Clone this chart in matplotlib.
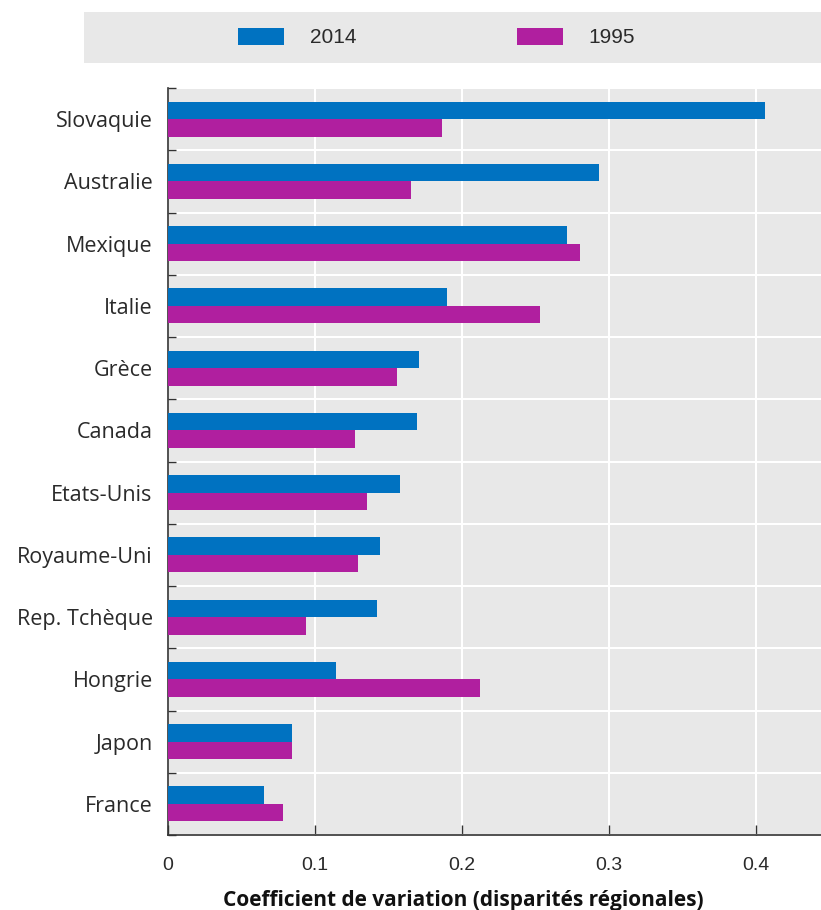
import matplotlib.pyplot as plt
import matplotlib.patches as mpatches
import numpy as np

# Data (coefficient of variation, regional disparities)
countries = ["Slovaquie", "Australie", "Mexique", "Italie", "Grèce", "Canada",
             "Etats-Unis", "Royaume-Uni", "Rep. Tchèque", "Hongrie", "Japon", "France"]
values_2014 = [0.406, 0.293, 0.271, 0.190, 0.171, 0.169, 0.158, 0.144, 0.142, 0.114, 0.084, 0.065]
values_1995 = [0.186, 0.165, 0.280, 0.253, 0.156, 0.127, 0.135, 0.129, 0.094, 0.212, 0.084, 0.078]
x_ticks = [0, 0.1, 0.2, 0.3, 0.4]
x_tick_labels = ["0", "0.1", "0.2", "0.3", "0.4"]

BLUE = "#0072C1"
PURPLE = "#B01F9F"
BG = "#E8E8E8"
NARROW = ['Liberation Sans', 'DejaVu Sans']

plt.rcParams['font.family'] = ['Open Sans', 'DejaVu Sans']

fig = plt.figure(figsize=(8.21, 9.10), dpi=100)
ax = fig.add_axes([168 / 821, 1 - 835 / 910, 1 - 168 / 821, (835 - 88) / 910])
ax.set_facecolor(BG)

y = np.arange(len(countries))
h = 0.28
ax.barh(y - h / 2, values_2014, height=h, color=BLUE, label="2014", zorder=3)
ax.barh(y + h / 2, values_1995, height=h, color=PURPLE, label="1995", zorder=3)

ax.set_ylim(len(countries) - 0.5, -0.5)
ax.set_xlim(0, 0.444)

ax.set_yticks(y)
ax.set_yticklabels(countries, fontsize=15.5, color="#2a2a2a")
ax.set_yticks(np.arange(-0.5, len(countries), 1.0), minor=True)
ax.tick_params(axis="y", which="major", length=0, pad=11)
ax.tick_params(axis="y", which="minor", direction="in", length=6, width=1, color="#333333")

ax.set_xticks(x_ticks)
ax.set_xticklabels(x_tick_labels, fontsize=14, color="#2a2a2a", family=NARROW)
ax.tick_params(axis="x", direction="in", length=7, width=1, color="#333333", pad=16)

ax.grid(True, which="minor", axis="y", color="white", linewidth=1.5, zorder=0)
ax.grid(True, which="major", axis="x", color="white", linewidth=1.5, zorder=0)
ax.set_axisbelow(True)

for side in ["top", "right"]:
    ax.spines[side].set_visible(False)
for side in ["left", "bottom"]:
    ax.spines[side].set_color("#333333")
    ax.spines[side].set_linewidth(1.2)

ax.set_xlabel("Coefficient de variation (disparités régionales)", fontsize=15,
              fontweight="bold", color="#111111")
ax.xaxis.set_label_coords(0.453, -0.074)

# Legend band at the top
fig.patches.append(mpatches.Rectangle((84 / 821, 1 - 63 / 910), 1 - 84 / 821, 51 / 910,
                                      transform=fig.transFigure, facecolor=BG,
                                      edgecolor="none", zorder=0))
leg = fig.legend(loc="center", bbox_to_anchor=(0.532, 1 - 37.5 / 910), ncol=2, frameon=False,
                 prop={"family": NARROW, "size": 15}, handlelength=2.2, handleheight=0.9,
                 handletextpad=1.25, columnspacing=7.7)
for t in leg.get_texts():
    t.set_color("#2a2a2a")

fig.savefig("out.png", dpi=100)
